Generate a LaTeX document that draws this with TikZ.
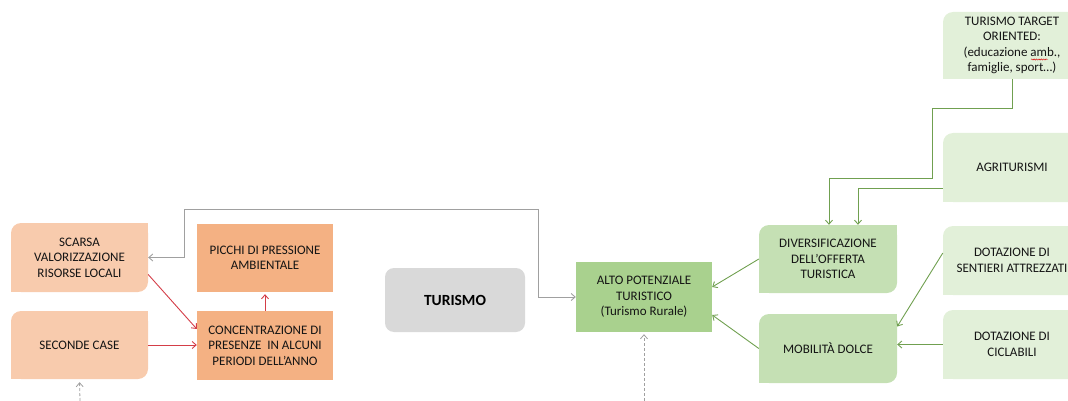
\documentclass[tikz,border=0pt]{standalone}
\usepackage{fontspec}
\setmainfont{Carlito}
\usetikzlibrary{arrows.meta,decorations.pathmorphing}
\definecolor{orangeLight}{HTML}{F8CBAD}
\definecolor{orangeMid}{HTML}{F4B183}
\definecolor{greyBox}{HTML}{D9D9D9}
\definecolor{greenMid}{HTML}{A9D18E}
\definecolor{greenSoft}{HTML}{C5E0B4}
\definecolor{greenPale}{HTML}{E2F0D9}
\definecolor{linkGreen}{RGB}{112,160,80}
\definecolor{linkRed}{RGB}{212,62,72}
\definecolor{linkGrey}{RGB}{160,160,160}
\definecolor{txt}{RGB}{20,20,20}
\tikzset{
  box/.style={minimum width=#1, inner sep=0pt, align=center, text=txt,
    font=\fontsize{13}{15.5}\selectfont},
  sq/.style={fill=#1},
  % rounded top-left and bottom-right corners, square elsewhere
  diag/.style={path picture={
    \fill[#1, rounded corners=10pt] (path picture bounding box.south west) rectangle (path picture bounding box.north east);
    \fill[#1] (path picture bounding box.north east) rectangle ++(-11pt,-11pt);
    \fill[#1] (path picture bounding box.south west) rectangle ++(11pt,11pt);
  }},
  tip/.style={-{Straight Barb[length=4pt,width=7pt]}},
  redlink/.style={tip, draw=linkRed, line width=0.9pt},
  greenlink/.style={tip, draw=linkGreen, line width=0.9pt},
  greylink/.style={draw=linkGrey, line width=0.9pt},
  dashlink/.style={tip, draw=linkGrey, line width=0.8pt, dashed, dash pattern=on 3pt off 2pt},
  squiggle/.style={red!85!black, line width=0.45pt, decorate,
    decoration={snake, amplitude=0.6pt, segment length=2.4pt}},
}
\begin{document}
\begin{tikzpicture}[x=1pt,y=-1pt]
\clip (0,0) rectangle (1068,401);
\useasboundingbox (0,0) rectangle (1068,401);

% left cluster
\node[box=137pt, minimum height=69pt, diag=orangeLight] (scarsa) at (79.5,257.5) {SCARSA\\VALORIZZAZIONE\\RISORSE LOCALI};
\node[box=137pt, minimum height=68pt, diag=orangeLight] (seconde) at (79.5,345) {SECONDE CASE};
\node[box=136pt, minimum height=68pt, sq=orangeMid] (picchi) at (265,258) {PICCHI DI PRESSIONE\\AMBIENTALE};
\node[box=136pt, minimum height=69pt, sq=orangeMid] (conc) at (265,345.5) {CONCENTRAZIONE DI\\PRESENZE\ \ IN ALCUNI\\PERIODI DELL’ANNO};

% centre
\node[box=140pt, minimum height=64pt, fill=greyBox, rounded corners=9pt,
  font=\fontsize{15.5}{18}\selectfont\bfseries, text=black] (turismo) at (455,300) {TURISMO};
\node[box=136pt, minimum height=70pt, sq=greenMid] (alto) at (644,297) {ALTO POTENZIALE\\TURISTICO\\(Turismo Rurale)};

% right cluster
\node[box=138pt, minimum height=68pt, diag=greenSoft] (divers) at (828,259) {DIVERSIFICAZIONE\\DELL’OFFERTA\\TURISTICA};
\node[box=138pt, minimum height=69pt, diag=greenSoft] (mob) at (828,348.5) {MOBILITÀ DOLCE};
\node[box=138pt, minimum height=67pt, diag=greenPale] (target) at (1012,45.5) {TURISMO TARGET\\ORIENTED:\\(educazione amb.,\\famiglie, sport…)};
\node[box=138pt, minimum height=69pt, diag=greenPale] (agri) at (1012,167.5) {AGRITURISMI};
\node[box=138pt, minimum height=69pt, diag=greenPale] (sent) at (1012,260.5) {DOTAZIONE DI\\SENTIERI ATTREZZATI};
\node[box=138pt, minimum height=69pt, diag=greenPale] (cicl) at (1012,344.5) {DOTAZIONE DI\\CICLABILI};

% spell-check mark under "amb"
\draw[squiggle] (1031,59.5) -- (1048,59.5);

% red links
\draw[redlink] ([yshift=-17pt]scarsa.east) -- ([yshift=16.5pt]conc.west);
\draw[redlink] (seconde.east) -- (seconde.east -| conc.west);
\draw[redlink, shorten >=2pt] (conc.north) -- (picchi.south);

% grey two-way link
\coordinate (g1) at (538,209);
\coordinate (g2) at (184,257.5);
\draw[greylink, {Straight Barb[length=4pt,width=7pt]}-{Straight Barb[length=4pt,width=7pt]}]
  (alto.west) -| (g1) -| (g2) -- (scarsa.east);

% dashed incoming links
\coordinate (d1) at (80,401);
\coordinate (d2) at (644,401);
\draw[dashlink, shorten >=3pt] (d1) -- (seconde.south);
\draw[dashlink, shorten >=2pt] (d2) -- (alto.south);

% green links
\coordinate (t1) at (932,108);
\coordinate (t2) at (829,178);
\draw[greenlink] (target.south) |- (t1) |- (t2) -- (t2 |- divers.north);
\draw[greenlink] ([yshift=-20.5pt]agri.west) -| ([xshift=30pt]divers.north);
\draw[greenlink] (divers.west) -- ([yshift=10pt]alto.east);
\draw[greenlink] (mob.west) -- ([yshift=-18pt]alto.east);
\draw[greenlink] ([yshift=7.5pt]sent.west) -- ([yshift=22pt]mob.east);
\draw[greenlink] (cicl.west) -- (cicl.west -| mob.east);
\end{tikzpicture}
\end{document}
